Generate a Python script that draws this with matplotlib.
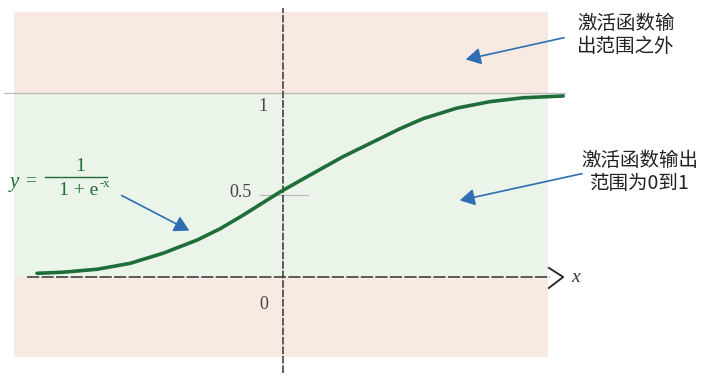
import numpy as np
import matplotlib.pyplot as plt

plt.rcParams['font.family'] = ['Noto Sans CJK SC', 'DejaVu Sans']

# sigmoid curve (x in axis units, y output)
curve_x = [-4.1, -3.67, -3.1, -2.55, -2.0, -1.43, -1.05, -0.67, -0.05,
           0.45, 1.0, 1.57, 1.95, 2.33, 2.9, 3.45, 4.0, 4.67]
curve_y = [0.020, 0.026, 0.042, 0.074, 0.129, 0.201, 0.262, 0.335, 0.462,
           0.554, 0.654, 0.745, 0.806, 0.860, 0.918, 0.953, 0.974, 0.984]

tick_vals = [1, 0.5, 0]
tick_text = ['1', '0.5', '0']
note_top = '激活函数输\n出范围之外'
note_mid = '激活函数输出\n范围为0到1'

green = '#1f6e3a'
blue = '#2e6fb3'
serif = 'Liberation Serif'

fig = plt.figure(figsize=(7.05, 3.82), dpi=100)
ax = fig.add_axes([0, 0, 1, 1])
# 1 unit in x = 60 px, 1 unit in y = 184 px, origin at (283, 277) px
ax.set_xlim(-283 / 60, (705 - 283) / 60)
ax.set_ylim((277 - 382) / 184, 277 / 184)
ax.axis('off')

# background bands
ax.add_patch(plt.Rectangle((-4.48, -0.435), 8.9, 1.875, color='#f9e9e3', lw=0, zorder=0))
ax.add_patch(plt.Rectangle((-4.48, 0), 8.9, 1, color='#ebf4e9', lw=0, zorder=1))

# upper limit line
ax.plot([-4.65, 4.7], [1, 1], color='#b8b8b8', lw=0.9, zorder=2)
# 0.5 marker
ax.plot([-0.38, 0.42], [0.445, 0.445], color='#bbbbbb', lw=0.9, zorder=2)

# axes lines
ax.plot([-4.27, 4.45], [0, 0], color='#333333', lw=1.1, ls=(0, (8, 1.5)), zorder=3)
ax.plot([4.43, 4.67, 4.43], [0.05, 0, -0.06], color='#222222', lw=1.3, zorder=3)
ax.plot([0, 0], [-0.52, 1.46], color='#333333', lw=1.1, ls=(0, (5, 1.2)), zorder=3)
ax.text(4.87, -0.005, 'x', fontsize=14, family=serif, style='italic',
        color='#333333', ha='center', va='center')

# tick labels
tick_pos = {1: (-0.25, 0.924), 0.5: (-0.52, 0.457), 0: (-0.25, -0.152)}
for v, t in zip(tick_vals, tick_text):
    tx, ty = tick_pos[v]
    ax.text(tx, ty, t, fontsize=13, family=serif, color='#444444',
            ha='right', va='center')

# sigmoid
ax.plot(curve_x, curve_y, color=green, lw=2.6, solid_capstyle='round',
        solid_joinstyle='round', zorder=4)

# formula
ax.text(-4.48, 0.516, 'y', fontsize=15, family=serif, style='italic',
        color=green, ha='center', va='center')
ax.text(-4.2, 0.525, '=', fontsize=14, family=serif,
        color=green, ha='center', va='center')
ax.text(-3.38, 0.598, '1', fontsize=14, family=serif,
        color=green, ha='center', va='center')
ax.plot([-3.97, -2.93], [0.543, 0.543], color=green, lw=1.0)
ax.text(-3.4, 0.468, '1 + e', fontsize=14, family=serif,
        color=green, ha='center', va='center')
ax.text(-3.06, 0.505, '-x', fontsize=9, family=serif,
        color=green, ha='left', va='center')

# arrows
arr = dict(arrowstyle='-|>,head_length=0.5,head_width=0.28', color=blue, lw=1.2,
           mutation_scale=18)
ax.annotate('', xy=(-1.52, 0.245), xytext=(-2.73, 0.45), arrowprops=arr)
ax.annotate('', xy=(3.0, 1.179), xytext=(4.73, 1.304), arrowprops=arr)
ax.annotate('', xy=(2.9, 0.413), xytext=(5.03, 0.565), arrowprops=arr)

# notes
ax.text(5.72, 1.315, note_top, fontsize=14, family='Noto Sans CJK SC', color='#222222',
        ha='center', va='center', linespacing=1.1)
ax.text(5.95, 0.57, note_mid, fontsize=14, family='Noto Sans CJK SC', color='#222222',
        ha='center', va='center', linespacing=1.1)

fig.savefig('out.png', dpi=100)
